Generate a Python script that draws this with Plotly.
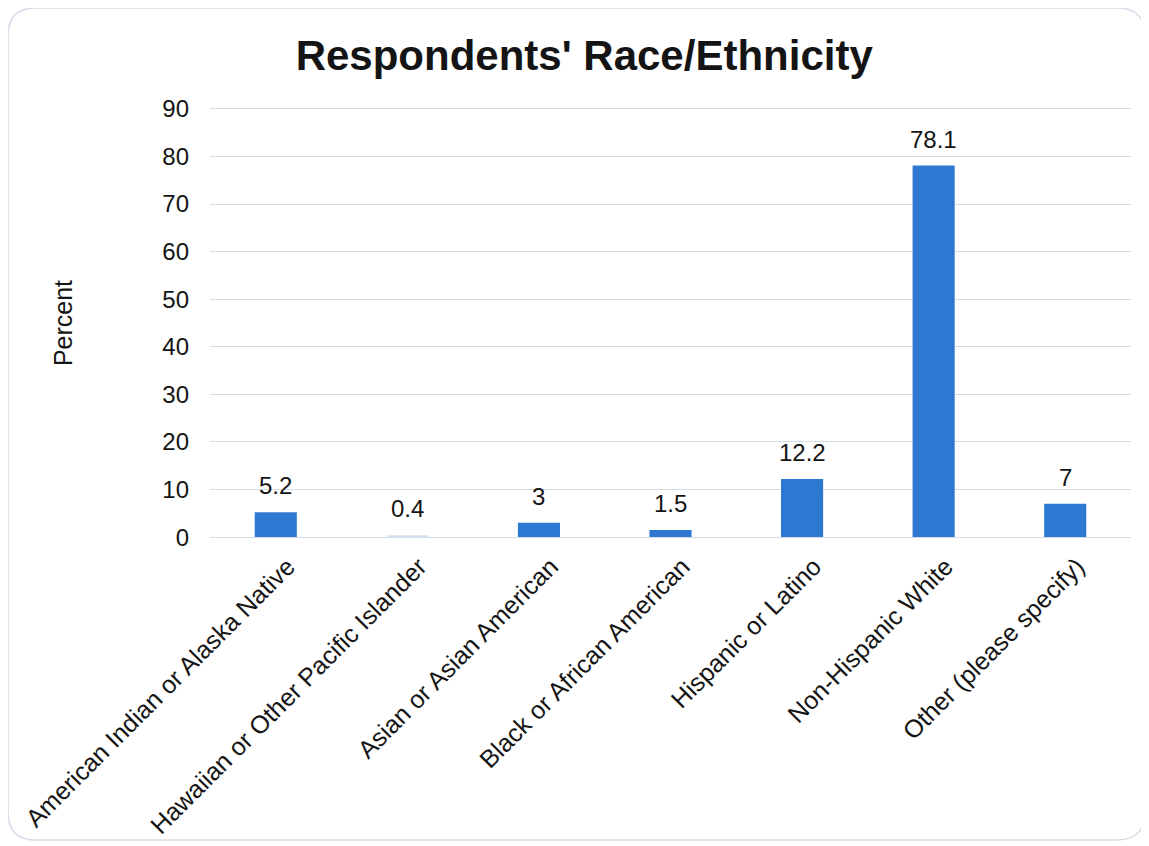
import plotly.graph_objects as go

categories = ["American Indian or Alaska Native", "Hawaiian or Other Pacific Islander",
              "Asian or Asian American", "Black or African American", "Hispanic or Latino",
              "Non-Hispanic White", "Other (please specify)"]
values = [5.2, 0.4, 3, 1.5, 12.2, 78.1, 7]
labels = ["5.2", "0.4", "3", "1.5", "12.2", "78.1", "7"]
yticks = [0, 10, 20, 30, 40, 50, 60, 70, 80, 90]

# page body adds an 8px offset, so the figure is drawn 8px smaller
W, H = 1141, 838
PAD = 0.4  # small range padding so the 0 and 90 gridlines are drawn
L, R, T, B = 202, 18, 99, 307
pw, ph = W - L - R, H - T - B

def px(x):
    return (x - L) / pw

def py(y):
    return (H - B - y) / ph

FONT = "Liberation Sans, Arial"
TXT = "#141414"

colors = ["#2E78D2"] * len(values)
colors[1] = "#D6E2F0"

fig = go.Figure(go.Bar(
    x=categories, y=values,
    marker=dict(color=colors, line=dict(width=0)),
    width=0.32, hoverinfo="x+y",
))

annotations = [dict(x=c, y=v, text=t, xref="x", yref="y", showarrow=False,
                    yanchor="bottom", yshift=11,
                    font=dict(size=24, color=TXT, family=FONT))
               for c, v, t in zip(categories, values, labels)]

# rounded frame
x0, x1, y0, y1, r = 0, 1137, 0, 832, 28
path = (f"M {px(x0 + r)} {py(y0)} L {px(x1 - r)} {py(y0)} "
        f"Q {px(x1)} {py(y0)} {px(x1)} {py(y0 + r)} "
        f"L {px(x1)} {py(y1 - r)} Q {px(x1)} {py(y1)} {px(x1 - r)} {py(y1)} "
        f"L {px(x0 + r)} {py(y1)} Q {px(x0)} {py(y1)} {px(x0)} {py(y1 - r)} "
        f"L {px(x0)} {py(y0 + r)} Q {px(x0)} {py(y0)} {px(x0 + r)} {py(y0)} Z")

fig.update_layout(
    width=W, height=H,
    margin=dict(l=L, r=R, t=T, b=B),
    paper_bgcolor="white", plot_bgcolor="white",
    font=dict(family=FONT, color=TXT),
    title=dict(text="<b>Respondents' Race/Ethnicity</b>", x=0.505, xref="container",
               y=1 - 47 / H, yanchor="middle", font=dict(size=42, color=TXT)),
    showlegend=False,
    bargap=0.68,
    annotations=annotations,
    shapes=[dict(type="path", path=path, xref="paper", yref="paper",
                 line=dict(color="#d5dde6", width=1.5), layer="below")],
)
fig.update_yaxes(range=[-PAD, 90 + PAD], tickvals=yticks, showgrid=True, gridcolor="#d3dbe5",
                 gridwidth=1, zeroline=False, showline=False, ticks="",
                 tickfont=dict(size=24), ticklabelstandoff=20, automargin=False,
                 title=dict(text="Percent", font=dict(size=25), standoff=82))
fig.update_xaxes(tickangle=-45, tickfont=dict(size=25), showline=False, ticks="",
                 showgrid=False, ticklabelstandoff=7, ticklabelshift=12, automargin=False)

fig.write_html("out.html")
